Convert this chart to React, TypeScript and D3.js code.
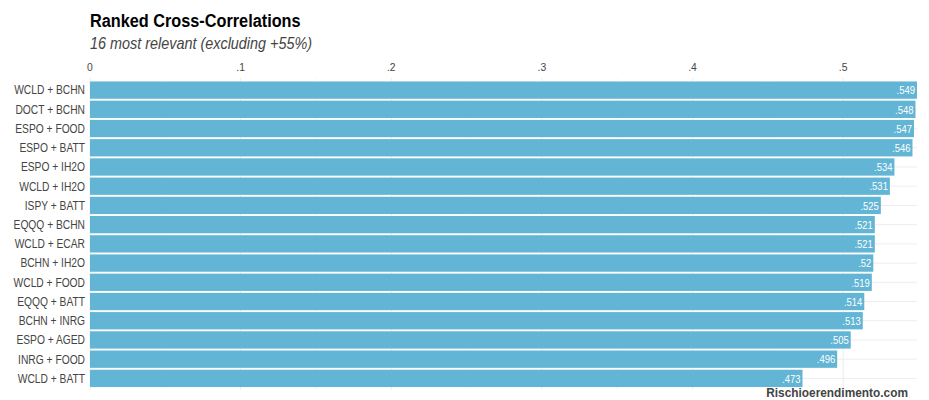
import React from "react";
import * as d3 from "d3";

const pairs = [
  "WCLD + BCHN", "DOCT + BCHN", "ESPO + FOOD", "ESPO + BATT", "ESPO + IH2O",
  "WCLD + IH2O", "ISPY + BATT", "EQQQ + BCHN", "WCLD + ECAR", "BCHN + IH2O",
  "WCLD + FOOD", "EQQQ + BATT", "BCHN + INRG", "ESPO + AGED", "INRG + FOOD",
  "WCLD + BATT",
];
const values = [0.549, 0.548, 0.547, 0.546, 0.534, 0.531, 0.525, 0.521, 0.521, 0.52, 0.519, 0.514, 0.513, 0.505, 0.496, 0.473];
const majorTicks = [0, 0.1, 0.2, 0.3, 0.4, 0.5];
const minorTicks = [0.05, 0.15, 0.25, 0.35, 0.45];

const W = 929, H = 400;
const FONT = "'Liberation Sans', Arial, sans-serif";

const fmt = (v: number) => {
  if (v === 0) return "0";
  return String(+v.toFixed(3)).replace(/^0/, "");
};

function T(props: { x: number; y: number; sx: number; children: React.ReactNode; [k: string]: any }) {
  const { x, y, sx, children, ...rest } = props;
  return (
    <g transform={`translate(${x},${y}) scale(${sx},1)`}>
      <text x={0} y={0} {...rest}>{children}</text>
    </g>
  );
}

export default function App() {
  const x = d3.scaleLinear().domain([0, 0.549]).range([90, 917]);
  const y = d3.scaleBand<string>().domain(pairs).range([80.5, 388]).paddingInner(0.1).paddingOuter(0.05);
  const panelTop = 78, panelBottom = 390;
  return (
    <svg width={W} height={H} style={{ display: "block", position: "absolute", left: 0, top: 0, background: "#fff" }} fontFamily={FONT}>
      <rect width={W} height={H} fill="#fff" />
      {minorTicks.map((t) => (
        <line key={"mi" + t} x1={x(t)} x2={x(t)} y1={panelTop} y2={panelBottom} stroke="#f3f3f3" strokeWidth={0.6} />
      ))}
      {majorTicks.map((t) => (
        <line key={"ma" + t} x1={x(t)} x2={x(t)} y1={panelTop} y2={panelBottom} stroke="#ebebeb" strokeWidth={0.9} />
      ))}
      {pairs.map((p) => (
        <line key={"h" + p} x1={90} x2={917} y1={y(p)! + y.bandwidth() / 2} y2={y(p)! + y.bandwidth() / 2} stroke="#ebebeb" strokeWidth={0.9} />
      ))}
      {majorTicks.map((t) => (
        <T key={"t" + t} x={x(t)} y={68} sx={0.9} textAnchor="middle" dominantBaseline="middle" fontSize={11.5} fill="#444">
          {fmt(t)}
        </T>
      ))}
      {pairs.map((p, i) => (
        <g key={p}>
          <rect x={x(0)} y={y(p)} width={x(values[i]) - x(0)} height={y.bandwidth()} fill="#62b5d4" />
          <T x={85} y={y(p)! + y.bandwidth() / 2} sx={0.82} textAnchor="end" dominantBaseline="central" fontSize={12.5} fill="#444">
            {p}
          </T>
          <T x={x(values[i]) - 2} y={y(p)! + y.bandwidth() / 2 + 0.5} sx={0.86} textAnchor="end" dominantBaseline="central" fontSize={11} fill="#fff">
            {fmt(values[i])}
          </T>
        </g>
      ))}
      <T x={90} y={27} sx={0.88} fontSize={18.5} fontWeight="bold" fill="#000">Ranked Cross-Correlations</T>
      <T x={90} y={49} sx={0.9} fontSize={16} fontStyle="italic" fill="#444">16 most relevant (excluding +55%)</T>
      <T x={908} y={397} sx={0.95} textAnchor="end" fontSize={12.5} fontWeight="bold" fill="#444">Rischioerendimento.com</T>
    </svg>
  );
}
